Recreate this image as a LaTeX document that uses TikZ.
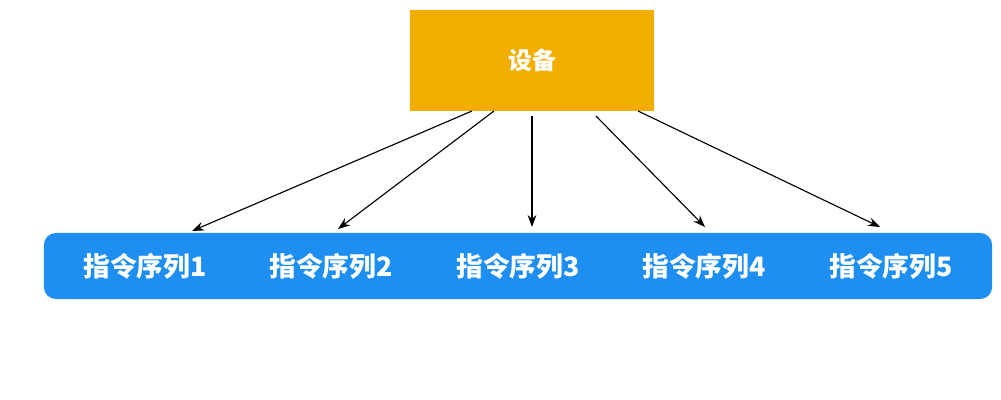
\documentclass[tikz,border=0pt]{standalone}
\usepackage{fontspec}
\newfontfamily\cjk{Noto Sans CJK SC}
\usepackage{tikz}
\usetikzlibrary{arrows.meta}
\definecolor{devorange}{HTML}{F2AE00}
\definecolor{seqblue}{HTML}{1E8FF0}
\tikzset{
  seqlabel/.style={text=white, font=\cjk\bfseries\fontsize{19}{22}\selectfont},
  link/.style={thick, -{Stealth[length=3mm,width=2.2mm]}}
}
\begin{document}
\begin{tikzpicture}[x=0.025cm, y=-0.025cm]
                  \useasboundingbox (0,0) rectangle (1001,400);
                  % Draw the device box and the sequence bar
                  \node[fill=devorange, minimum width=6.1cm, minimum height=2.525cm,
                        text=white, font=\cjk\bfseries\fontsize{17}{20}\selectfont] (dev) at (532,60.5) {设备};
                  \node[fill=seqblue, rounded corners=0.3cm, minimum width=23.7cm,
                        minimum height=1.65cm] (bar) at (518,266) {};

                  % Start and end points of the links
                  \coordinate (S1) at (472,111);
                  \coordinate (S2) at (494,111);
                  \coordinate (S3) at (532,116);
                  \coordinate (S4) at (596,116);
                  \coordinate (S5) at (638,111);
                  \coordinate (E1) at (192,231);
                  \coordinate (E2) at (338,229);
                  \coordinate (E3) at (532,227);
                  \coordinate (E4) at (705,227);
                  \coordinate (E5) at (880,227);

                  % Labels and links
                  \foreach \i/\x in {1/145, 2/331, 3/518, 4/704, 5/891}
                  {
                    \node[seqlabel] (seq\i) at (\x,266) {指令序列\i};
                    \draw[link] (S\i) -- (E\i);
                  }
              \end{tikzpicture}
\end{document}
